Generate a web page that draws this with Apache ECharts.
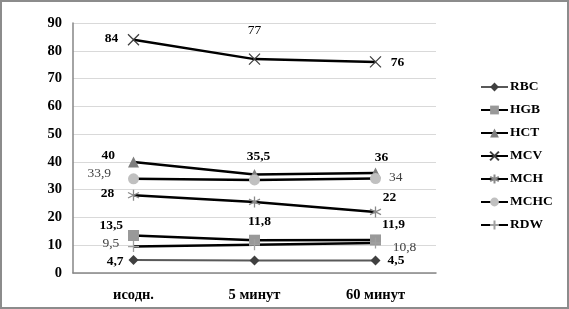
<!DOCTYPE html>
<html>
<head>
<meta charset="utf-8">
<script src="https://cdn.jsdelivr.net/npm/echarts@6/dist/echarts.min.js"></script>
<style>
  html, body { margin: 0; padding: 0; background: #fff; }
  #chart { width: 569px; height: 309px; box-sizing: border-box; border: 2px solid #8c8c8c; }
</style>
</head>
<body>
<div id="chart"></div>
<script>
// categories and values
const categories = ['исодн.', '5 минут', '60 минут'];
const seriesNames = ['RBC', 'HGB', 'HCT', 'MCV', 'MCH', 'MCHC', 'RDW'];
const rbc = [4.7, 4.5, 4.5];
const hgb = [13.5, 11.8, 11.9];
const hct = [40, 35.5, 36];
const mcv = [84, 77, 76];
const mch = [28, 25.6, 22];
const mchc = [33.9, 33.5, 34];
const rdw = [9.5, 10.2, 10.8];
const yTicks = [0, 10, 20, 30, 40, 50, 60, 70, 80, 90];

const serif = 'Liberation Serif';

// symbols
const xMark = 'path://M0,0L10,10M10,0L0,10';
const starMark = 'path://M5,0L5,10M0.7,2.5L9.3,7.5M0.7,7.5L9.3,2.5';
const plusMark = 'path://M5,0L5,10M1,5L9,5';

// per-point label placement: null = no label
// [position, offsetX, offsetY, bold, colour]
const labelPlace = {
  RBC:  [['left', 0, 2, true], null, ['right', 2, 0, true]],
  HGB:  [['left', 0, -10, true], ['top', 5, -1, true], ['top', 18, 2, true]],
  HCT:  [['left', -8, -6, true], ['top', 4, 0, true], ['top', 6, 2, true]],
  MCV:  [['left', -4, -1, true], ['top', 0, -11, false, '#000'], ['right', 4, 1, true]],
  MCH:  [['left', -8, -2, true], null, ['top', 14, 4, true]],
  MCHC: [['left', -12, -5, false], null, ['right', 3, -1, false]],
  RDW:  [['left', -3, -3, false], null, ['right', 6, 4, false]]
};

function fmt(v) { return String(v).replace('.', ','); }

function pts(name, values) {
  return values.map((v, i) => {
    const p = labelPlace[name][i];
    if (!p) return { value: v, label: { show: false } };
    return {
      value: v,
      label: {
        show: true,
        position: p[0],
        offset: [p[1], p[2]],
        fontWeight: p[3] ? 'bold' : 'normal',
        color: p[4] || (p[3] ? '#000' : '#404040')
      }
    };
  });
}

function line(name, values, symbol, size, markColor, lineColor, lineWidth, stroke) {
  return {
    name: name,
    type: 'line',
    data: pts(name, values),
    symbol: symbol,
    symbolSize: size,
    showAllSymbol: true,
    lineStyle: { color: lineColor, width: lineWidth },
    itemStyle: stroke
      ? { color: 'transparent', borderColor: markColor, borderWidth: 1.3 }
      : { color: markColor, borderWidth: 0 },
    label: {
      formatter: p => fmt(p.value),
      fontFamily: serif,
      fontSize: 13.5
    },
    emphasis: { disabled: true },
    z: 2
  };
}

const chart = echarts.init(document.getElementById('chart'));
chart.setOption({
  animation: false,
  backgroundColor: '#fff',
  grid: { left: 71, right: 131, top: 21, bottom: 34, containLabel: false },
  legend: {
    orient: 'vertical',
    left: 473,
    top: 73,
    itemWidth: 27,
    itemHeight: 11,
    itemGap: 9,
    textStyle: { fontFamily: serif, fontSize: 13.5, fontWeight: 'bold', color: '#000', padding: [0, 0, 0, -3] },
    data: seriesNames
  },
  xAxis: {
    type: 'category',
    data: categories,
    boundaryGap: true,
    axisLine: { lineStyle: { color: '#868686', width: 1.5 } },
    axisTick: { show: false },
    axisLabel: { fontFamily: serif, fontSize: 14.5, fontWeight: 'bold', color: '#000', margin: 15 }
  },
  yAxis: {
    type: 'value',
    min: yTicks[0],
    max: yTicks[yTicks.length - 1],
    interval: 10,
    axisLine: { show: true, lineStyle: { color: '#868686', width: 1.5 } },
    axisTick: { show: false },
    splitLine: { lineStyle: { color: '#d9d9d9', width: 1 } },
    axisLabel: { fontFamily: serif, fontSize: 14.5, fontWeight: 'bold', color: '#000', margin: 11 }
  },
  series: [
    line('RBC', rbc, 'diamond', 10, '#404040', '#595959', 2, false),
    line('HGB', hgb, 'rect', 11, '#999999', '#000', 2.5, false),
    line('HCT', hct, 'triangle', 11, '#7f7f7f', '#000', 2.5, false),
    line('MCV', mcv, xMark, 11, '#404040', '#000', 2.5, true),
    line('MCH', mch, starMark, 11, '#8a8a8a', '#000', 2.5, true),
    line('MCHC', mchc, 'circle', 11, '#c0c0c0', '#000', 2.5, false),
    line('RDW', rdw, plusMark, 11, '#a0a0a0', '#000', 2.5, true)
  ]
});
</script>
</body>
</html>
